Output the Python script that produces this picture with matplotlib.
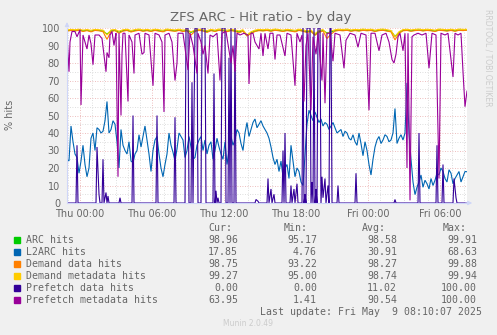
import numpy as np
import matplotlib
matplotlib.use('Agg')
import matplotlib.pyplot as plt
from matplotlib.patches import Rectangle

# values sampled every 20 minutes, starting Wed 22:55
arc_hits = [98.5, 98.8, 98.6, 98.9, 98.4, 98.7, 98.2, 98.8, 98.6, 98.3,
            96.5, 98.4, 98.7, 97.6, 98.5, 98.8, 98.1, 98.6, 98.9, 98.4,
            98.7, 98.3, 98.8, 98.5, 98.2, 98.9, 98.6, 98.4, 98.8, 98.3,
            98.6, 97.5, 98.4, 98.8, 98.5, 98.0, 98.7, 98.3, 98.9, 98.6,
            98.2, 98.7, 98.4, 97.8, 98.5, 95.5, 97.2, 98.3, 98.7, 98.5,
            98.8, 98.4, 98.9, 98.6, 98.3, 98.7, 98.5, 98.2, 98.8, 98.4,
            97.9, 98.3, 96.2, 98.0, 98.6, 97.1, 97.8, 98.5, 98.8, 98.6,
            98.9, 98.4, 98.7, 98.5, 98.9, 98.6, 98.8, 98.3, 98.7, 98.9,
            98.5, 98.2, 95.2, 97.4, 98.6, 98.8, 98.4, 98.7, 98.9, 98.5,
            98.8, 98.6, 98.3, 98.9, 98.7, 98.5, 98.8, 98.4, 98.9, 98.7,
            98.96]
demand_data = [98.2, 98.6, 98.3, 98.7, 98.0, 98.5, 97.8, 98.6, 98.4, 97.9,
               93.5, 98.0, 98.5, 97.0, 98.2, 98.6, 97.7, 98.3, 98.7, 98.1,
               98.5, 98.0, 98.6, 98.2, 97.8, 98.7, 98.4, 98.1, 98.6, 98.0,
               98.4, 96.0, 98.1, 98.6, 98.3, 97.5, 98.5, 98.0, 98.7, 98.3,
               97.9, 98.5, 98.1, 97.2, 98.2, 95.5, 96.8, 98.0, 98.5, 98.3,
               98.6, 98.1, 98.7, 98.4, 98.0, 98.5, 98.2, 97.8, 98.6, 98.1,
               97.4, 98.0, 95.8, 97.5, 98.3, 94.0, 96.5, 98.2, 98.6, 98.4,
               98.7, 98.1, 98.5, 98.2, 98.7, 98.4, 98.6, 98.0, 98.5, 98.7,
               98.2, 97.8, 93.2, 96.9, 98.4, 98.6, 98.1, 98.5, 98.7, 98.3,
               98.6, 98.4, 98.0, 98.7, 98.5, 98.2, 98.6, 98.1, 98.7, 98.5,
               98.75]
demand_meta = [98.9, 99.2, 99.0, 99.3, 98.8, 99.1, 98.7, 99.2, 99.0, 98.8,
               96.0, 98.9, 99.1, 98.2, 99.0, 99.3, 98.6, 99.1, 99.4, 98.9,
               99.2, 98.8, 99.3, 99.0, 98.7, 99.4, 99.1, 98.9, 99.3, 98.8,
               99.1, 97.8, 98.9, 99.3, 99.0, 98.5, 99.2, 98.8, 99.4, 99.1,
               98.7, 99.2, 98.9, 98.3, 99.0, 96.0, 97.8, 98.8, 99.2, 99.0,
               99.3, 98.9, 99.4, 99.1, 98.8, 99.2, 99.0, 98.7, 99.3, 98.9,
               98.4, 98.8, 96.8, 98.5, 99.1, 96.5, 98.2, 99.0, 99.3, 99.1,
               99.4, 98.9, 99.2, 99.0, 99.4, 99.1, 99.3, 98.8, 99.2, 99.4,
               99.0, 98.6, 95.0, 97.9, 99.1, 99.3, 98.9, 99.2, 99.4, 99.0,
               99.3, 99.1, 98.8, 99.4, 99.2, 99.0, 99.3, 98.9, 99.4, 99.2,
               99.27]
# L2ARC sampled every 10 minutes, starting Wed 22:55
l2arc_hits = [25, 24, 44, 35, 28, 26, 17, 24, 33, 22,
              15, 20, 37, 40, 30, 43, 42, 40, 41, 47,
              58, 40, 42, 47, 45, 35, 20, 42, 33, 30,
              28, 35, 24, 23, 28, 30, 39, 32, 38, 44,
              36, 28, 18, 30, 36, 38, 28, 20, 15, 22,
              28, 40, 33, 29, 24, 31, 40, 38, 36, 26,
              30, 38, 32, 25, 26, 33, 36, 38, 30, 36,
              28, 33, 35, 25, 30, 37, 32, 28, 25, 35,
              22, 30, 38, 33, 36, 42, 40, 34, 30, 40,
              46, 38, 42, 46, 48, 43, 45, 47, 44, 42,
              40, 37, 32, 26, 22, 25, 18, 24, 15, 20,
              22, 14, 33, 24, 15, 20, 18, 12, 10, 28,
              45, 53, 50, 47, 52, 49, 46, 48, 44, 46,
              45, 42, 44, 46, 43, 40, 41, 42, 38, 41,
              40, 37, 36, 39, 35, 33, 40, 34, 27, 35,
              30, 22, 16, 25, 32, 36, 38, 34, 36, 39,
              38, 35, 36, 40, 54, 34, 37, 39, 36, 40,
              68.6, 40, 25, 12, 4.8, 9, 12, 16, 9, 13,
              11, 8, 14, 10, 13, 17, 16, 20, 18, 14,
              12, 19, 17, 11, 14, 16, 18, 12, 15, 18,
              17.85]

# prefetch series: (minutes after Thu 00:00, value) at 5 minute resolution
pf_data_min = [-65, -20, -15, -10, 80, 85, 95, 100, 110, 115, 120, 130, 135, 140, 145,
               195, 200, 205, 260, 265, 270, 380, 385, 390, 470, 475, 480,
               525, 530, 540, 545, 555, 560, 565, 575, 585, 590, 605, 610, 625, 630,
               665, 670, 675, 680, 685, 690, 695, 705, 710, 725, 730,
               740, 745, 750, 755, 760, 770, 775, 780, 875, 880, 890, 895,
               935, 940, 945, 955, 960, 970, 975, 1010, 1015, 1020, 1025, 1030,
               1050, 1055, 1060, 1070, 1075, 1085, 1090,
               1110, 1115, 1120, 1125, 1130, 1135, 1150, 1155, 1160, 1165, 1170, 1175,
               1180, 1185, 1190, 1200, 1205, 1210, 1215, 1225, 1230, 1240, 1245,
               1250, 1255, 1260, 1285, 1290, 1295, 1375, 1380, 1385, 1570, 1575, 1580,
               1690, 1695, 1700, 1780, 1785, 1790, 1810, 1815, 1820,
               1865, 1870, 1880, 1885, 1935]
pf_data_val = [0, 0, 33, 0, 0, 32, 5, 0, 0, 25, 0, 6, 0, 4, 0,
               0, 3, 0, 0, 50, 0, 0, 50, 0, 0, 49, 0,
               0, 100, 100, 0, 0, 69, 0, 100, 100, 0, 0, 100, 100, 0,
               0, 74, 0, 7, 0, 3, 0, 0, 100, 100, 0,
               0, 83, 0, 100, 0, 0, 100, 0, 0, 2, 1, 0,
               0, 14, 0, 8, 0, 5, 0, 0, 30, 0, 40, 0,
               0, 10, 0, 8, 0, 11, 0,
               0, 100, 0, 5, 0, 100, 100, 0, 12, 0, 100, 0,
               8, 0, 100, 100, 0, 15, 3, 14, 0, 10, 0,
               100, 100, 0, 0, 10, 0, 0, 17, 0, 0, 2, 0,
               0, 40, 0, 0, 33, 0, 0, 22, 0,
               0, 14, 3, 0, 0]
pf_meta_min = [-65, -55, -50, -40, -25, -15, 0, 5, 15, 25, 35, 45, 55, 65, 75, 95,
               110, 130, 135, 145, 150, 160, 170, 175, 180, 190, 195, 205, 210, 215,
               225, 240, 245, 260, 270, 275, 295, 310, 320, 325, 345, 365, 375, 395,
               410, 420, 425, 445, 460, 475, 485, 490, 515, 540, 550, 565, 585, 590,
               605, 615, 625, 640, 650, 665, 685, 700, 710, 730, 755, 765, 775, 785,
               800, 820, 840, 845, 855, 865, 875, 895, 905, 915, 925, 940, 950, 965,
               975, 985, 1000, 1025, 1035, 1055, 1075, 1085, 1100, 1110, 1120, 1130,
               1140, 1155, 1165, 1180, 1190, 1210, 1215, 1225, 1235, 1250, 1265, 1275,
               1300, 1320, 1330, 1350, 1375, 1390, 1405, 1430, 1445, 1455, 1475, 1495,
               1510, 1530, 1545, 1560, 1570, 1580, 1590, 1600, 1615, 1625, 1635, 1640,
               1650, 1660, 1670, 1690, 1710, 1730, 1745, 1760, 1780, 1795, 1805, 1825,
               1840, 1865, 1875, 1890, 1905, 1915, 1925, 1935]
pf_meta_val = [96, 75, 92, 98, 98, 95, 99, 56, 96, 92, 88, 96, 91, 79, 96, 96,
               94, 75, 86, 83, 96, 98, 90, 94, 97, 15, 97, 50, 85, 97,
               97, 58, 96, 92, 74, 96, 97, 85, 86, 97, 96, 67, 97, 96,
               92, 52, 96, 97, 92, 70, 80, 97, 97, 76, 97, 90, 74, 97,
               92, 85, 90, 74, 96, 95, 97, 70, 97, 98, 80, 90, 75, 97,
               96, 97, 96, 68, 97, 97, 92, 88, 97, 84, 97, 88, 97, 97,
               82, 96, 96, 84, 97, 96, 67, 97, 92, 96, 58, 90,
               97, 53, 95, 85, 97, 70, 97, 57, 97, 97, 81, 97,
               96, 77, 93, 97, 96, 89, 97, 96, 53, 97, 97, 87,
               96, 97, 92, 82, 80, 85, 95, 97, 87, 97, 20, 97,
               1.5, 95, 96, 97, 96, 97, 77, 97, 96, 14, 97, 96,
               97, 72, 97, 96, 97, 75, 55, 63.95]

names = ['ARC hits', 'L2ARC hits', 'Demand data hits', 'Demand metadata hits',
         'Prefetch data hits', 'Prefetch metadata hits']
colors = ['#00CC00', '#0066B3', '#FF8000', '#FFCC00', '#330099', '#990099']
cur = ['98.96', '17.85', '98.75', '99.27', '0.00', '63.95']
mins = ['95.17', '4.76', '93.22', '95.00', '0.00', '1.41']
avgs = ['98.58', '30.91', '98.27', '98.74', '11.02', '90.54']
maxs = ['99.91', '68.63', '99.88', '99.94', '100.00', '100.00']
tick_hours = [0, 6, 12, 18, 24, 30]
tick_labels = ['Thu 00:00', 'Thu 06:00', 'Thu 12:00', 'Thu 18:00', 'Fri 00:00', 'Fri 06:00']

W, H = 497, 335
fg = '#666666'

fig = plt.figure(figsize=(W / 100, H / 100), dpi=100, facecolor='#F0F0F0')
ax = fig.add_axes([67 / W, 1 - 203 / H, 400 / W, 175 / H])
ax.set_facecolor('white')

t20 = (np.arange(len(arc_hits)) * 20 - 65) / 60.0
t10 = (np.arange(len(l2arc_hits)) * 10 - 65) / 60.0
series = [(t20, arc_hits), (t10, l2arc_hits), (t20, demand_data), (t20, demand_meta),
          (np.array(pf_data_min) / 60.0, pf_data_val),
          (np.array(pf_meta_min) / 60.0, pf_meta_val)]
for (t, v), c in zip(series, colors):
    ax.plot(t, v, color=c, lw=0.8, solid_joinstyle='miter')

ax.set_xlim(-65 / 60.0, 1935 / 60.0)
ax.set_ylim(0, 100)
ax.set_xticks(tick_hours)
ax.set_xticklabels(tick_labels)
ax.set_xticks(np.arange(-1, 33), minor=True)
ax.set_yticks(np.arange(0, 101, 10))
ax.set_yticks(np.arange(0, 101, 5), minor=True)
ax.grid(which='minor', color='#D4D4D4', ls=(0, (1, 2)), lw=0.6)
ax.grid(which='major', color='#E8A8A8', ls=(0, (1, 2)), lw=0.6)
ax.set_axisbelow(True)
ax.tick_params(which='both', length=0, colors=fg, labelsize=7)
ax.tick_params(axis='y', pad=5)
ax.tick_params(axis='x', pad=4)
for s in ['top', 'right']:
    ax.spines[s].set_visible(False)
for s in ['left', 'bottom']:
    ax.spines[s].set_color('#CFD6F8')
    ax.spines[s].set_linewidth(0.8)
ax.annotate('', xy=(0, 1.05), xytext=(0, 0.99), xycoords='axes fraction',
            arrowprops=dict(arrowstyle='-|>', color='#CFD6F8', lw=0.8, mutation_scale=6))
ax.annotate('', xy=(1.02, 0), xytext=(0.99, 0), xycoords='axes fraction',
            arrowprops=dict(arrowstyle='-|>', color='#CFD6F8', lw=0.8, mutation_scale=6))

fig.text(261 / W, 1 - 17 / H, 'ZFS ARC - Hit ratio - by day', ha='center', va='center',
         fontsize=9.5, color=fg)
fig.text(10 / W, 1 - 115 / H, '% hits', rotation=90, ha='center', va='center',
         fontsize=7, color=fg)
fig.text(488 / W, 1 - 58 / H, 'RRDTOOL / TOBI OETIKER', rotation=270, ha='center',
         va='center', fontsize=5.5, color='#CCCCCC')

mono = 'DejaVu Sans Mono'
fs = 7.1
fig.text(232 / W, 1 - 228 / H, 'Cur:', ha='right', va='center', family=mono, fontsize=fs, color=fg)
fig.text(308 / W, 1 - 228 / H, 'Min:', ha='right', va='center', family=mono, fontsize=fs, color=fg)
fig.text(386 / W, 1 - 228 / H, 'Avg:', ha='right', va='center', family=mono, fontsize=fs, color=fg)
fig.text(467 / W, 1 - 228 / H, 'Max:', ha='right', va='center', family=mono, fontsize=fs, color=fg)
for i in range(len(names)):
    y = 240 + 12 * i
    fig.add_artist(Rectangle((14 / W, 1 - (y + 3) / H), 6 / W, 6 / H,
                             transform=fig.transFigure, color=colors[i]))
    fig.text(26 / W, 1 - y / H, names[i], ha='left', va='center', family=mono, fontsize=fs, color=fg)
    fig.text(238 / W, 1 - y / H, cur[i], ha='right', va='center', family=mono, fontsize=fs, color=fg)
    fig.text(317 / W, 1 - y / H, mins[i], ha='right', va='center', family=mono, fontsize=fs, color=fg)
    fig.text(397 / W, 1 - y / H, avgs[i], ha='right', va='center', family=mono, fontsize=fs, color=fg)
    fig.text(477 / W, 1 - y / H, maxs[i], ha='right', va='center', family=mono, fontsize=fs, color=fg)

fig.text(482 / W, 1 - 312 / H, 'Last update: Fri May  9 08:10:07 2025', ha='right', va='center',
         family=mono, fontsize=fs, color=fg)
fig.text(248 / W, 1 - 324 / H, 'Munin 2.0.49', ha='center', va='center', fontsize=5.5,
         color='#CCCCCC')

fig.savefig('out.png', dpi=100, facecolor=fig.get_facecolor())
